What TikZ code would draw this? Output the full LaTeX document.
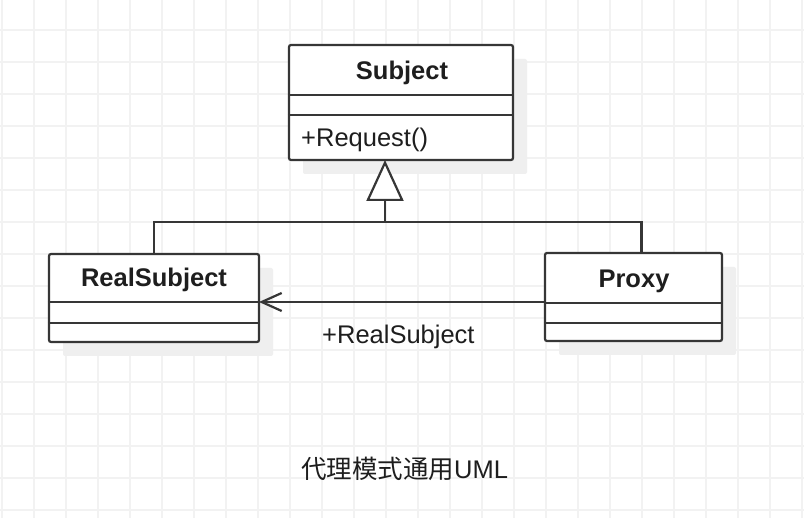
\documentclass[tikz,border=0pt]{standalone}
\usepackage{fontspec}
\setmainfont{Liberation Sans}
\newfontfamily\cjk{Noto Sans CJK SC}
\usetikzlibrary{arrows.meta,shadows}
\definecolor{gridc}{HTML}{F2F2F2}
\definecolor{linec}{HTML}{363636}
\definecolor{shadowc}{HTML}{EFEFEF}
\definecolor{textc}{HTML}{1E1E1E}
\begin{document}
\begin{tikzpicture}[x=1pt,y=-1pt,
  umlbox/.style={draw=linec, line width=2.2pt, fill=white, rounded corners=2pt, inner sep=0pt,
    drop shadow={shadow xshift=14pt, shadow yshift=-14pt, fill=shadowc, opacity=1}},
  divider/.style={draw=linec, line width=2.2pt},
  conn/.style={draw=linec, line width=2.2pt},
  lbl/.style={font=\fontsize{25.5}{30}\selectfont, text=textc, inner sep=0pt},
  ttl/.style={font=\fontsize{25.5}{30}\selectfont\bfseries, text=textc, inner sep=0pt}]
\useasboundingbox (0,0) rectangle (804,518);
\fill[white] (0,0) rectangle (804,518);
\foreach \x in {2,34,...,802} \draw[gridc, line width=1.5pt] (\x,0) -- (\x,518);
\foreach \y in {30,62,...,510} \draw[gridc, line width=1.5pt] (0,\y) -- (804,\y);

% Subject
\node[umlbox, minimum width=224pt, minimum height=115pt] (subject) at (401,102.5) {};
\draw[divider] ([yshift=-51pt]subject.north west) -- ([yshift=-51pt]subject.north east);
\draw[divider] ([yshift=-71pt]subject.north west) -- ([yshift=-71pt]subject.north east);
\node[ttl, anchor=base] (subjectname) at (402,80) {Subject};
\node[lbl, anchor=base west] (request) at (301,147) {+Request()};

% RealSubject
\node[umlbox, minimum width=210pt, minimum height=88pt] (realsubject) at (154,298) {};
\draw[divider] ([yshift=-49pt]realsubject.north west) -- ([yshift=-49pt]realsubject.north east);
\draw[divider] ([yshift=-70pt]realsubject.north west) -- ([yshift=-70pt]realsubject.north east);
\node[ttl, anchor=base] (realname) at (154,287) {RealSubject};

% Proxy
\node[umlbox, minimum width=177pt, minimum height=88pt] (proxy) at (633.5,297) {};
\draw[divider] ([yshift=-51pt]proxy.north west) -- ([yshift=-51pt]proxy.north east);
\draw[divider] ([yshift=-71pt]proxy.north west) -- ([yshift=-71pt]proxy.north east);
\node[ttl, anchor=base] (proxyname) at (634,288) {Proxy};

% generalization
\coordinate (jn) at (385,222);
\coordinate (apex) at (385,160);
\draw[conn] (realsubject.north) |- (jn) -| ([xshift=8pt]proxy.north);
\draw[conn, -{Triangle[open, length=41pt, width=37pt, fill=white]}] (jn) -- (apex);

% association
\coordinate (assocstart) at (545,302);
\coordinate (assocend) at (259,302);
\draw[conn, -{Straight Barb[length=20pt, width=18pt]}] (assocstart) -- (assocend);
\node[lbl, anchor=base west] (rolename) at (322,344) {+RealSubject};

% caption
\node[lbl, anchor=base west] (caption) at (301,479) {{\cjk 代理模式通用}UML};
\end{tikzpicture}
\end{document}
